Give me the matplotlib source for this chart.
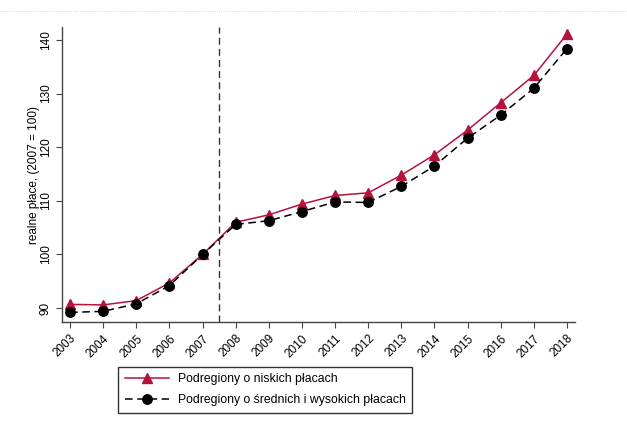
import matplotlib.pyplot as plt
from matplotlib.lines import Line2D

plt.rcParams['font.family'] = ['Liberation Sans', 'DejaVu Sans']

# ================= Data =================
years = list(range(2003, 2019))
niskie = [90.7, 90.6, 91.4, 94.7, 100.0, 106.0, 107.4, 109.4, 111.0, 111.5,
          114.8, 118.6, 123.2, 128.3, 133.4, 141.1]
srednie_wysokie = [89.2, 89.4, 90.8, 94.2, 100.0, 105.6, 106.3, 108.0, 109.8, 109.7,
                   112.7, 116.5, 121.7, 126.0, 131.0, 138.4]
label_niskie = "Podregiony o niskich płacach"
label_srednie = "Podregiony o średnich i wysokich płacach"
break_year = 2007.5

# ================= Plot =================
fig = plt.figure(figsize=(6.27, 4.30), dpi=100)
ax = fig.add_axes([0.099, 0.251, 0.818, 0.686])

red = "#B5123E"
ax.plot(years, niskie, color=red, marker="^", markersize=6.8, linewidth=1.1,
        label=label_niskie)
ax.plot(years, srednie_wysokie, color="black", marker="o", markersize=6.8,
        linewidth=1.1, dashes=(5, 3), label=label_srednie)
ax.axvline(break_year, color="#333333", linewidth=1.0, dashes=(5, 3))

ax.set_xlim(2002.76, 2018.24)
ax.set_ylim(87.4, 142.4)
ax.set_xticks(years)
ax.set_xticklabels([str(y) for y in years], rotation=45, ha="right",
                   rotation_mode="anchor", fontsize=8.5)
ax.set_yticks([90, 100, 110, 120, 130, 140])
ax.set_yticklabels(["90", "100", "110", "120", "130", "140"], rotation=90,
                   va="center", fontsize=8.5)
ax.set_ylabel("realne płace, (2007 = 100)", fontsize=8.5)
ax.yaxis.set_label_coords(-0.043, 0.5)

for s in ["top", "right"]:
    ax.spines[s].set_visible(False)
for s in ["left", "bottom"]:
    ax.spines[s].set_color("#444444")
    ax.spines[s].set_linewidth(1.0)
ax.tick_params(colors="#444444", labelcolor="black", length=4, width=0.8)

leg = fig.legend(loc="center", bbox_to_anchor=(0.423, 0.094), frameon=True,
                 fancybox=False, edgecolor="black", fontsize=8.8,
                 handlelength=3.6, handletextpad=0.75, borderpad=0.55,
                 borderaxespad=0, labelspacing=0.7)
leg.get_frame().set_linewidth(1.0)

# faint dotted line at the very top
fig.add_artist(Line2D([0, 1], [0.974, 0.974], transform=fig.transFigure,
                      color="#F2B8C6", linewidth=0.6, linestyle=":"))

fig.savefig("out.png", dpi=100)
